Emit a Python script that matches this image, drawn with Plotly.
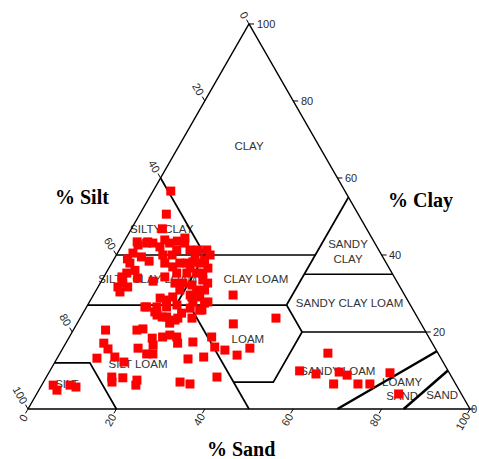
import math
import plotly.graph_objects as go

# Sample compositions: % sand and % clay (silt is the remainder to 100)
sand_pct = [4, 6, 7, 3, 5.4, 9, 12, 13.3, 3.6, 5.3, 6.7, 3.5, 4.1, 4.7, 5.1, 4.5, 6.7, 4.1,
            8.2, 11.7, 12, 13.8, 8.8, 10.5, 13, 13.9, 14.3, 15.4, 17, 18.2, 19.9, 20.6,
            16, 18.3, 20.5, 21.9, 22.8, 21, 22.7, 21.9, 24.3, 23.4, 15.5, 17.2, 18.2,
            13.6, 15.9, 18.1, 20.2, 17, 19.4, 22.1, 20.9, 23.6, 25.3, 26, 26.8, 22.5,
            7.3, 15.6, 14.4, 18.9, 20, 21.1, 22.5, 25.3, 28.6, 8.6, 10.3, 12.9, 15.6, 9,
            17, 19.7, 21.1, 29.7, 33, 32.2, 34.2, 14.8, 15.5, 17.4, 20.9, 21.3, 30.9,
            33.4, 38.6, 2.6, 4.1, 6.4, 8, 31.6, 35.4, 40.3, 36.9, 44.3, 42.3, 60.6, 56.5,
            60.6, 65.6, 67.8, 65.9, 71.4, 74.1, 77.2, 81.9,
            26.2, 18.4, 21.7, 22.3, 26.5, 16.1, 13.2, 24.3, 16, 17.8, 19.8, 10.5, 12.6,
            17.8, 21.2, 18.4, 22.4, 16.9, 18.7, 24.3, 18.9, 24.5, 5.6,
            6.2, 7.8, 3.0, 5.9]
clay_pct = [56.6, 50.6, 46.8, 43.4, 43.4, 43.9, 43.6, 44.4, 42.6, 43.1, 43.1, 40.5, 37.9,
            35.3, 32.7, 31.7, 31.7, 34.3, 38.4, 33.2, 37.9, 34.3, 42.1, 43.1, 41.3, 43.1,
            36.9, 37.9, 37.9, 38.2, 37.9, 38.7, 35.3, 35.3, 35.3, 35.3, 33.5, 32.2, 30.9,
            29.6, 29.1, 27.8, 28.8, 28.3, 29.1, 26.5, 26.5, 26.5, 27, 24.4, 23.9, 23.6,
            22.3, 26.2, 23.6, 25.7, 27.8, 29.1,
            20.5, 20.8, 20.5, 18.4, 16.6, 18.7, 19.2, 17.1, 17.4, 17.1, 15.6, 13.5, 12.2,
            13.2, 15.8, 14.3, 14.3, 13, 13.5, 18.7, 16.1, 8.3, 7, 8.1, 7.5, 6.2, 7, 6.5,
            8.3, 6.2, 4.9, 6.2, 5.7, 29.6, 22.1, 14, 15.3, 23.6, 15.8, 14.5, 9.9, 9.1,
            9.6, 8.8, 6.5, 6.5, 6.5, 9.4, 3.9,
            27.5, 23.9, 23.1, 24.9, 25.7, 25.2, 26.5, 18.7, 41.3, 41.3, 41.3, 40, 40,
            40, 40, 36.6, 36.6, 32.7, 32.7, 32.7, 30.9, 30.9, 30.4,
            36.0, 34.0, 39.0, 39.5]

tick_values = [0, 20, 40, 60, 80, 100]

# USDA texture class names
class_names = ["CLAY", "SILTY CLAY", "SILTY CLAY LOAM", "CLAY LOAM", "SANDY<br>CLAY",
               "SANDY CLAY LOAM", "LOAM", "SILT LOAM", "SILT", "SANDY LOAM",
               "LOAMY<br>SAND", "SAND"]

H = math.sqrt(3) / 2
PX_X = 4.42    # pixels per horizontal unit
PX_Y = 4.446   # pixels per vertical unit


def to_xy(s, c):
    """(sand, clay) -> cartesian position inside the triangle."""
    return s + c / 2, c * H


# label anchors (sand, clay) for each class name
class_pos = [(16, 68), (7, 46.5), (10.3, 33.5), (34.8, 33.5), (52.1, 40.6), (59.1, 27.3),
             (40.8, 17.9), (19.2, 11.4), (5.7, 6.2), (65.3, 9.6), (82.2, 4.9), (92, 3.4)]

# class boundaries, as polylines of (sand, clay)
boundaries = [
    [(0, 60), (20, 40)],
    [(0, 40), (45, 40)],
    [(45, 27), (45, 55)],
    [(45, 35), (65, 35)],
    [(20, 27), (20, 40)],
    [(0, 27), (45, 27)],
    [(45, 27), (52, 20), (80, 20)],
    [(52, 20), (52, 7), (43, 7)],
    [(23, 27), (43, 7), (50, 0)],
    [(0, 12), (8, 12), (20, 0)],
]
thick_boundaries = [
    [(85, 15), (70, 0)],
    [(90, 10), (85, 0)],
]
outline = [(0, 0), (100, 0), (0, 100), (0, 0)]


def poly_xy(polys):
    xs, ys = [], []
    for p in polys:
        for s, c in p:
            x, y = to_xy(s, c)
            xs.append(x)
            ys.append(y)
        xs.append(None)
        ys.append(None)
    return xs, ys


fig = go.Figure()

# class names sit underneath the sample markers
cx, cy = zip(*[to_xy(s, c) for s, c in class_pos])
fig.add_trace(go.Scatter(x=cx, y=cy, mode="text", text=class_names,
                         textposition="middle center",
                         textfont=dict(family="Liberation Sans, Arial", size=11.5, color="#333333"),
                         hoverinfo="skip"))

bx, by = poly_xy(boundaries)
fig.add_trace(go.Scatter(x=bx, y=by, mode="lines", line=dict(color="black", width=1.7),
                         hoverinfo="skip"))
tx, ty = poly_xy(thick_boundaries)
fig.add_trace(go.Scatter(x=tx, y=ty, mode="lines", line=dict(color="black", width=2.5),
                         hoverinfo="skip"))
ox, oy = poly_xy([outline])
fig.add_trace(go.Scatter(x=ox, y=oy, mode="lines", line=dict(color="black", width=1.4),
                         hoverinfo="skip"))

# tick marks
tick_len = 5
mx, my = [], []
annotations = []
tick_font = dict(family="Liberation Sans, Arial", size=11, color="#2a2a2a")
for v in tick_values:
    # clay ticks on the right edge (silt = 0)
    x, y = to_xy(100 - v, v)
    mx += [x, x + tick_len / PX_X, None]
    my += [y, y, None]
    annotations.append(dict(x=x + (tick_len + 0.5) / PX_X, y=y, xref="x", yref="y",
                            text=str(v), showarrow=False, xanchor="left", yanchor="middle",
                            font=tick_font))
    # silt ticks on the left edge (sand = 0)
    x, y = to_xy(0, 100 - v)
    mx += [x, x - 0.5 * tick_len / PX_X, None]
    my += [y, y + H * tick_len / PX_Y, None]
    d = {1: 10, 2: 13.5, 3: 16}[len(str(v))]
    annotations.append(dict(x=x - 0.5 * d / PX_X, y=y + H * d / PX_Y, xref="x", yref="y",
                            text=str(v), showarrow=False, xanchor="center", yanchor="middle",
                            textangle=60, font=tick_font))
    # sand ticks on the bottom edge (clay = 0)
    x, y = to_xy(v, 0)
    mx += [x, x - 0.5 * tick_len / PX_X, None]
    my += [y, y - H * tick_len / PX_Y, None]
    d = {1: 10, 2: 12.5, 3: 15}[len(str(v))]
    annotations.append(dict(x=x - 0.5 * d / PX_X, y=y - H * d / PX_Y, xref="x", yref="y",
                            text=str(v), showarrow=False, xanchor="center", yanchor="middle",
                            textangle=-60, font=tick_font))

# the clay "0" label at the right-hand corner is kept inside the page
for a in annotations:
    if a.get("xanchor") == "left" and a["text"] == "0":
        a["x"] = 1.0
        a["xref"] = "paper"
        a["xanchor"] = "right"

fig.add_trace(go.Scatter(x=mx, y=my, mode="lines", line=dict(color="black", width=1),
                         hoverinfo="skip"))

# samples
px_, py_ = zip(*[to_xy(s, c) for s, c in zip(sand_pct, clay_pct)])
fig.add_trace(go.Scatter(x=px_, y=py_, mode="markers",
                         marker=dict(symbol="square", size=9, color="#ff0000",
                                     line=dict(width=0))))

title_font = dict(family="Liberation Serif, Times New Roman", size=20, color="black")
for text, xp, yp in [("<b>% Silt</b>", 82, 197), ("<b>% Clay</b>", 420, 200),
                     ("<b>% Sand</b>", 241, 449)]:
    annotations.append(dict(x=xp / 479, y=1 - yp / 459, xref="paper", yref="paper",
                            text=text, showarrow=False, xanchor="center", yanchor="middle",
                            font=title_font))

W, Hgt = 479, 459
fig.update_layout(
    width=W, height=Hgt, margin=dict(l=0, r=0, t=0, b=0),
    paper_bgcolor="white", plot_bgcolor="white", showlegend=False,
    xaxis=dict(range=[-28 / PX_X, (W - 28) / PX_X], visible=False, fixedrange=True),
    yaxis=dict(range=[-(Hgt - 409) / PX_Y, 409 / PX_Y], visible=False, fixedrange=True),
    annotations=annotations,
)

fig.write_html("out.html")
